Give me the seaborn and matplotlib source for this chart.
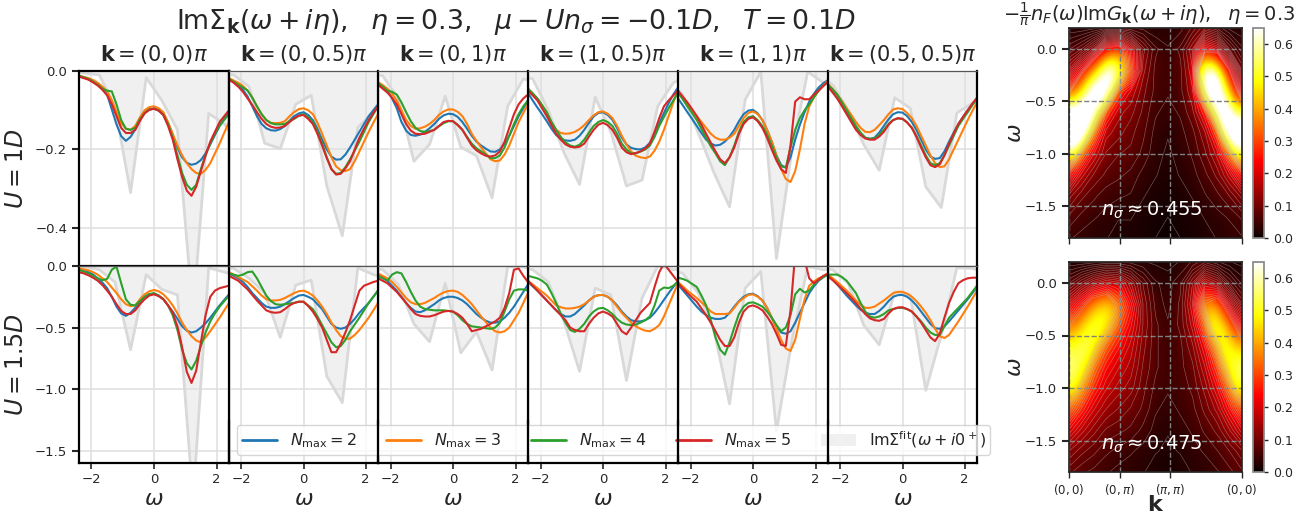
"""Self-energy panels and occupied spectral maps."""

import matplotlib

matplotlib.use("Agg")

import matplotlib.pyplot as plt
import numpy as np
import seaborn as sns

OMEGA = [-2.4, -2.25, -2.1, -1.95, -1.8, -1.65, -1.5, -1.35, -1.2, -1.05, -0.9, -0.75, -0.6, -0.45, -0.3, -0.15, 0.0,
         0.15, 0.3, 0.45, 0.6, 0.75, 0.9, 1.05, 1.2, 1.35, 1.5, 1.65, 1.8, 1.95, 2.1, 2.25, 2.4]
OMEGA_FIT = [-2.75, -2.25, -1.75, -1.25, -0.75, -0.25, 0.25, 0.75, 1.25, 1.75, 2.25, 2.75]

K_TITLES = ["(0, 0)", "(0, 0.5)", "(0, 1)", "(1, 0.5)", "(1, 1)", "(0.5, 0.5)"]
N_MAX = [2, 3, 4, 5]

U1_N2 = [
    [-.014,-.017,-.021,-.027,-.034,-.043,-.06,-.098,-.136,-.166,-.178,-.168,-.149,-.125,-.106,-.098,-.096,-.101,-.112,-.135,-.165,-.195,-.22,-.234,-.239,-.236,-.227,-.21,-.187,-.163,-.14,-.122,-.106],
    [-.02,-.027,-.035,-.048,-.065,-.09,-.115,-.135,-.146,-.151,-.152,-.148,-.14,-.127,-.115,-.108,-.105,-.112,-.125,-.148,-.175,-.2,-.218,-.226,-.225,-.213,-.195,-.175,-.155,-.135,-.115,-.1,-.085],
    [-.03,-.039,-.05,-.07,-.095,-.13,-.152,-.163,-.165,-.162,-.155,-.146,-.135,-.122,-.113,-.109,-.11,-.117,-.13,-.147,-.165,-.18,-.19,-.198,-.205,-.206,-.2,-.185,-.165,-.14,-.115,-.095,-.075],
    [-.056,-.075,-.093,-.11,-.128,-.147,-.163,-.173,-.177,-.178,-.175,-.165,-.15,-.132,-.116,-.107,-.105,-.112,-.124,-.145,-.17,-.187,-.196,-.199,-.2,-.195,-.183,-.163,-.133,-.107,-.082,-.06,-.042],
    [-.07,-.087,-.105,-.122,-.14,-.158,-.175,-.185,-.19,-.188,-.18,-.167,-.15,-.128,-.11,-.101,-.099,-.108,-.125,-.15,-.18,-.215,-.24,-.246,-.22,-.175,-.137,-.105,-.078,-.058,-.042,-.031,-.023],
    [-.035,-.052,-.07,-.087,-.105,-.125,-.145,-.16,-.17,-.173,-.17,-.157,-.14,-.123,-.11,-.105,-.106,-.115,-.13,-.15,-.175,-.2,-.218,-.224,-.222,-.205,-.18,-.157,-.135,-.117,-.1,-.085,-.07],
]
U1_N3 = [
    [-.012,-.015,-.018,-.023,-.03,-.04,-.052,-.075,-.105,-.133,-.147,-.15,-.14,-.118,-.1,-.092,-.09,-.095,-.105,-.13,-.16,-.19,-.215,-.235,-.25,-.26,-.262,-.252,-.235,-.21,-.185,-.157,-.13],
    [-.018,-.024,-.03,-.038,-.05,-.068,-.09,-.11,-.125,-.132,-.133,-.132,-.128,-.115,-.105,-.097,-.095,-.1,-.11,-.132,-.16,-.19,-.22,-.243,-.253,-.255,-.25,-.23,-.205,-.18,-.155,-.132,-.11],
    [-.028,-.036,-.045,-.058,-.075,-.1,-.125,-.14,-.147,-.146,-.142,-.135,-.125,-.112,-.103,-.098,-.098,-.104,-.115,-.135,-.16,-.178,-.195,-.21,-.225,-.23,-.228,-.213,-.19,-.16,-.13,-.107,-.085],
    [-.045,-.057,-.07,-.087,-.105,-.13,-.15,-.158,-.16,-.159,-.155,-.148,-.138,-.125,-.113,-.105,-.103,-.109,-.12,-.14,-.165,-.187,-.205,-.216,-.22,-.222,-.218,-.203,-.18,-.15,-.115,-.08,-.05],
    [-.055,-.07,-.085,-.1,-.115,-.13,-.145,-.16,-.17,-.175,-.175,-.17,-.16,-.14,-.12,-.107,-.103,-.11,-.125,-.15,-.18,-.215,-.25,-.275,-.283,-.255,-.2,-.135,-.09,-.067,-.05,-.037,-.025],
    [-.033,-.046,-.06,-.077,-.095,-.112,-.13,-.145,-.155,-.156,-.15,-.138,-.125,-.11,-.098,-.095,-.097,-.107,-.12,-.14,-.165,-.19,-.215,-.235,-.245,-.243,-.225,-.2,-.175,-.15,-.125,-.102,-.08],
]
U1_N4 = [
    [-.012,-.016,-.02,-.027,-.035,-.045,-.05,-.052,-.085,-.125,-.147,-.15,-.145,-.123,-.107,-.098,-.096,-.1,-.112,-.135,-.17,-.215,-.26,-.29,-.303,-.29,-.25,-.215,-.185,-.16,-.14,-.124,-.11],
    [-.02,-.027,-.035,-.042,-.05,-.068,-.09,-.11,-.125,-.133,-.136,-.136,-.135,-.128,-.122,-.114,-.11,-.118,-.13,-.155,-.185,-.22,-.25,-.262,-.26,-.245,-.225,-.203,-.18,-.155,-.13,-.11,-.09],
    [-.03,-.04,-.05,-.053,-.06,-.08,-.105,-.128,-.145,-.153,-.155,-.153,-.15,-.141,-.133,-.128,-.128,-.137,-.15,-.168,-.185,-.197,-.205,-.213,-.222,-.222,-.215,-.195,-.165,-.135,-.11,-.09,-.075],
    [-.045,-.057,-.07,-.087,-.105,-.13,-.15,-.168,-.182,-.19,-.193,-.188,-.175,-.157,-.14,-.13,-.125,-.13,-.14,-.16,-.185,-.2,-.21,-.21,-.205,-.2,-.19,-.168,-.14,-.117,-.095,-.075,-.055],
    [-.055,-.072,-.09,-.107,-.125,-.147,-.17,-.192,-.21,-.23,-.24,-.22,-.19,-.155,-.13,-.118,-.115,-.125,-.14,-.162,-.19,-.22,-.243,-.246,-.195,-.15,-.12,-.1,-.085,-.067,-.05,-.038,-.028],
    [-.035,-.047,-.06,-.08,-.1,-.12,-.14,-.157,-.17,-.173,-.172,-.163,-.15,-.135,-.125,-.121,-.122,-.131,-.145,-.165,-.19,-.215,-.235,-.24,-.235,-.215,-.19,-.165,-.14,-.122,-.105,-.087,-.07],
]
U1_N5 = [
    [-.014,-.018,-.022,-.029,-.037,-.048,-.062,-.085,-.115,-.145,-.158,-.158,-.15,-.127,-.108,-.099,-.096,-.101,-.112,-.14,-.175,-.225,-.27,-.305,-.318,-.295,-.255,-.215,-.18,-.155,-.13,-.115,-.1],
    [-.022,-.03,-.04,-.053,-.07,-.087,-.105,-.122,-.135,-.142,-.145,-.144,-.14,-.13,-.12,-.114,-.112,-.122,-.135,-.16,-.19,-.222,-.25,-.264,-.262,-.248,-.23,-.2,-.17,-.147,-.125,-.107,-.09],
    [-.035,-.045,-.055,-.068,-.085,-.11,-.135,-.152,-.16,-.161,-.16,-.155,-.15,-.14,-.13,-.127,-.128,-.138,-.15,-.17,-.19,-.202,-.21,-.216,-.218,-.215,-.205,-.18,-.145,-.11,-.085,-.07,-.06],
    [-.05,-.062,-.075,-.095,-.115,-.138,-.16,-.175,-.187,-.193,-.195,-.193,-.185,-.167,-.15,-.137,-.132,-.138,-.15,-.17,-.195,-.207,-.212,-.209,-.205,-.198,-.185,-.155,-.12,-.09,-.075,-.062,-.05],
    [-.05,-.065,-.08,-.097,-.115,-.137,-.16,-.183,-.205,-.225,-.235,-.22,-.195,-.16,-.135,-.122,-.118,-.128,-.145,-.17,-.2,-.228,-.25,-.26,-.19,-.078,-.067,-.072,-.072,-.06,-.05,-.038,-.027],
    [-.04,-.055,-.07,-.09,-.11,-.13,-.15,-.163,-.172,-.175,-.175,-.167,-.155,-.137,-.125,-.12,-.122,-.131,-.145,-.168,-.195,-.22,-.24,-.245,-.238,-.215,-.185,-.16,-.135,-.117,-.1,-.083,-.068],
]
U1_FIT = [
    [-.003, -.005, -.01, -.09, -.31, -.017, -.075, -.15, -.62, -.108, -.135, -.19],
    [-.005, -.01, -.04, -.184, -.198, -.085, -.062, -.293, -.42, -.144, -.105, -.06],
    [-.005, -.012, -.07, -.23, -.187, -.064, -.194, -.216, -.323, -.09, -.02, -.03],
    [-.01, -.02, -.1, -.208, -.289, -.067, -.155, -.293, -.278, -.09, -.03, -.01],
    [-.02, -.06, -.158, -.259, -.346, -.073, -.002, -.478, -.2, -.002, -.03, -.02],
    [-.01, -.035, -.1, -.187, -.253, -.068, -.095, -.295, -.348, -.107, -.082, -.06],
]

U15_N2 = [
    [-.03,-.04,-.05,-.07,-.1,-.135,-.18,-.25,-.33,-.385,-.405,-.38,-.34,-.29,-.25,-.23,-.225,-.24,-.27,-.32,-.37,-.43,-.49,-.525,-.54,-.53,-.5,-.465,-.42,-.37,-.32,-.275,-.23],
    [-.06,-.08,-.1,-.13,-.17,-.22,-.26,-.3,-.33,-.34,-.34,-.33,-.31,-.285,-.26,-.24,-.235,-.25,-.27,-.31,-.35,-.41,-.47,-.5,-.51,-.5,-.47,-.43,-.38,-.34,-.3,-.25,-.2],
    [-.07,-.09,-.12,-.16,-.2,-.25,-.3,-.34,-.37,-.375,-.36,-.335,-.31,-.28,-.26,-.25,-.25,-.26,-.28,-.31,-.35,-.39,-.42,-.445,-.46,-.46,-.45,-.42,-.38,-.33,-.27,-.21,-.15],
    [-.13,-.165,-.2,-.24,-.28,-.32,-.36,-.39,-.41,-.41,-.39,-.355,-.32,-.28,-.25,-.237,-.235,-.25,-.28,-.32,-.37,-.41,-.44,-.45,-.45,-.44,-.42,-.38,-.33,-.275,-.22,-.17,-.12],
    [-.15,-.195,-.24,-.285,-.33,-.37,-.4,-.42,-.43,-.43,-.42,-.38,-.33,-.285,-.25,-.23,-.225,-.245,-.28,-.34,-.42,-.49,-.54,-.55,-.53,-.46,-.38,-.3,-.22,-.165,-.12,-.09,-.07],
    [-.07,-.11,-.15,-.195,-.24,-.28,-.32,-.355,-.38,-.39,-.39,-.365,-.33,-.285,-.25,-.237,-.235,-.25,-.28,-.32,-.37,-.42,-.47,-.505,-.51,-.49,-.45,-.405,-.36,-.315,-.27,-.22,-.17],
]
U15_N3 = [
    [-.02,-.027,-.035,-.05,-.07,-.1,-.13,-.175,-.22,-.27,-.31,-.325,-.32,-.27,-.23,-.205,-.195,-.205,-.23,-.27,-.32,-.385,-.46,-.52,-.57,-.605,-.62,-.58,-.53,-.475,-.42,-.36,-.3],
    [-.05,-.07,-.09,-.11,-.13,-.165,-.2,-.24,-.27,-.28,-.28,-.275,-.26,-.24,-.22,-.205,-.2,-.215,-.24,-.28,-.33,-.39,-.46,-.52,-.57,-.59,-.59,-.56,-.52,-.47,-.42,-.36,-.3],
    [-.06,-.08,-.1,-.13,-.17,-.215,-.26,-.295,-.31,-.31,-.3,-.28,-.26,-.235,-.215,-.203,-.2,-.21,-.235,-.27,-.31,-.36,-.41,-.455,-.5,-.53,-.54,-.53,-.5,-.44,-.38,-.3,-.22],
    [-.12,-.15,-.18,-.21,-.24,-.28,-.32,-.335,-.345,-.345,-.34,-.33,-.31,-.28,-.25,-.237,-.235,-.25,-.28,-.33,-.38,-.42,-.46,-.49,-.51,-.525,-.53,-.51,-.48,-.41,-.32,-.23,-.14],
    [-.13,-.165,-.2,-.23,-.26,-.295,-.33,-.37,-.39,-.39,-.39,-.385,-.34,-.29,-.26,-.235,-.23,-.25,-.28,-.34,-.42,-.51,-.6,-.67,-.69,-.6,-.43,-.27,-.16,-.125,-.1,-.085,-.07],
    [-.07,-.1,-.13,-.165,-.2,-.24,-.28,-.315,-.34,-.34,-.33,-.305,-.28,-.25,-.22,-.21,-.21,-.225,-.25,-.285,-.33,-.38,-.44,-.51,-.57,-.585,-.56,-.505,-.45,-.39,-.33,-.265,-.2],
]
U15_N4 = [
    [-.03,-.045,-.06,-.08,-.1,-.115,-.105,-.03,-.005,-.14,-.27,-.315,-.32,-.285,-.25,-.228,-.22,-.24,-.27,-.32,-.4,-.52,-.68,-.79,-.84,-.77,-.65,-.54,-.45,-.385,-.33,-.285,-.24],
    [-.06,-.07,-.08,-.07,-.05,-.045,-.1,-.17,-.24,-.285,-.31,-.315,-.31,-.305,-.3,-.29,-.29,-.32,-.35,-.41,-.48,-.55,-.62,-.66,-.65,-.6,-.53,-.475,-.42,-.36,-.3,-.25,-.2],
    [-.08,-.1,-.12,-.07,-.05,-.06,-.13,-.21,-.28,-.33,-.35,-.355,-.36,-.36,-.36,-.365,-.37,-.4,-.44,-.47,-.49,-.495,-.5,-.505,-.51,-.5,-.46,-.37,-.27,-.2,-.19,-.19,-.2],
    [-.08,-.09,-.1,-.12,-.15,-.22,-.3,-.39,-.46,-.52,-.535,-.51,-.47,-.41,-.37,-.345,-.34,-.36,-.39,-.43,-.46,-.475,-.48,-.475,-.46,-.44,-.41,-.32,-.2,-.175,-.18,-.16,-.13],
    [-.095,-.105,-.12,-.145,-.17,-.24,-.32,-.44,-.58,-.68,-.72,-.62,-.5,-.39,-.33,-.3,-.295,-.31,-.33,-.37,-.42,-.48,-.53,-.5,-.4,-.23,-.185,-.215,-.2,-.15,-.115,-.09,-.07],
    [-.07,-.07,-.07,-.09,-.12,-.17,-.22,-.3,-.37,-.41,-.42,-.41,-.39,-.36,-.35,-.34,-.34,-.35,-.37,-.41,-.45,-.5,-.54,-.56,-.56,-.49,-.42,-.38,-.34,-.3,-.26,-.21,-.16],
]
U15_N5 = [
    [-.05,-.06,-.075,-.095,-.12,-.155,-.2,-.25,-.31,-.365,-.39,-.39,-.36,-.31,-.27,-.24,-.23,-.245,-.27,-.32,-.38,-.49,-.66,-.86,-.95,-.85,-.62,-.4,-.25,-.2,-.18,-.17,-.16],
    [-.08,-.1,-.12,-.155,-.19,-.235,-.28,-.32,-.36,-.375,-.38,-.375,-.35,-.32,-.3,-.29,-.29,-.325,-.37,-.43,-.5,-.6,-.7,-.7,-.63,-.54,-.44,-.32,-.2,-.16,-.145,-.13,-.12],
    [-.1,-.12,-.14,-.175,-.21,-.255,-.3,-.35,-.39,-.405,-.41,-.41,-.4,-.385,-.37,-.365,-.37,-.39,-.42,-.47,-.53,-.52,-.51,-.49,-.47,-.45,-.42,-.34,-.22,-.03,-.02,-.08,-.13],
    [-.12,-.16,-.2,-.24,-.28,-.32,-.36,-.4,-.44,-.5,-.52,-.53,-.53,-.47,-.42,-.385,-.37,-.385,-.41,-.47,-.53,-.555,-.5,-.44,-.38,-.34,-.3,-.17,-.05,.02,-.03,-.08,-.13],
    [-.14,-.18,-.22,-.255,-.29,-.345,-.4,-.46,-.53,-.6,-.65,-.65,-.58,-.46,-.37,-.33,-.32,-.335,-.36,-.41,-.47,-.55,-.64,-.65,-.36,.1,.15,.05,-.1,-.14,-.11,-.08,-.06],
    [-.085,-.115,-.15,-.185,-.22,-.26,-.3,-.345,-.39,-.425,-.44,-.445,-.43,-.385,-.35,-.337,-.335,-.35,-.37,-.41,-.46,-.52,-.58,-.61,-.55,-.42,-.3,-.21,-.14,-.115,-.1,-.095,-.095],
]
U15_FIT = [
    [-.003, -.005, -.03, -.13, -.68, -.07, -.19, -.235, -1.9, -.015, -.05, -.08],
    [-.01, -.02, -.1, -.22, -.58, -.155, -.115, -.895, -1.11, -.015, -.07, -.1],
    [-.01, -.03, -.15, -.47, -.615, -.14, -.705, -.535, -.845, -.005, -.01, -.03],
    [-.01, -.03, -.13, -.45, -.855, -.18, -.235, -.93, -.26, 0.0, -.03, -.03],
    [-.02, -.06, -.22, -.52, -1.12, -.18, -.045, -1.34, -.6, -.005, -.03, -.02],
    [-.01, -.03, -.14, -.48, -.64, -.21, -.235, -1.01, -.56, -.015, -.02, -.05],
]

MAP_U1 = [
    [.03, .03, .04, .06, .06, .05, .04, .03, .03, .04, .07, .12, .08, .04, .03],
    [.10, .14, .22, .42, .45, .28, .13, .07, .05, .07, .14, .35, .30, .14, .07],
    [.2, .33, .55, .8, .5, .3, .11, .06, .05, .06, .12, .65, .8, .38, .14],
    [.36, .62, .85, .55, .2, .14, .09, .06, .05, .06, .1, .4, .85, .6, .25],
    [.75, .85, .5, .2, .13, .11, .08, .05, .04, .05, .08, .16, .45, .85, .55],
    [.9, .6, .26, .13, .11, .09, .07, .04, .03, .04, .06, .1, .2, .6, .85],
    [.55, .27, .16, .1, .085, .08, .06, .035, .025, .035, .05, .08, .13, .27, .55],
    [.26, .15, .1, .08, .07, .06, .04, .03, .02, .03, .04, .06, .09, .15, .26],
    [.13, .09, .07, .055, .05, .045, .03, .02, .015, .02, .03, .045, .06, .085, .13],
    [.08, .06, .05, .04, .03, .03, .02, .015, .01, .015, .02, .03, .04, .05, .07],
    [.05, .04, .03, .03, .02, .02, .015, .01, .005, .01, .015, .02, .03, .035, .045],
]
MAP_U15 = [
    [.03, .03, .04, .05, .05, .04, .03, .025, .02, .03, .05, .08, .05, .03, .02],
    [.12, .18, .24, .28, .26, .18, .1, .05, .04, .06, .14, .27, .22, .12, .06],
    [.25, .35, .47, .5, .36, .24, .12, .06, .04, .07, .16, .4, .47, .28, .14],
    [.38, .5, .55, .43, .28, .2, .12, .07, .05, .07, .13, .26, .55, .47, .26],
    [.52, .57, .42, .28, .22, .17, .11, .07, .05, .06, .1, .18, .34, .55, .44],
    [.57, .47, .3, .22, .18, .15, .1, .07, .05, .06, .08, .14, .24, .44, .56],
    [.52, .35, .24, .18, .15, .13, .09, .06, .05, .055, .07, .11, .18, .3, .52],
    [.35, .25, .18, .14, .12, .1, .08, .05, .04, .05, .06, .09, .13, .21, .33],
    [.23, .17, .13, .1, .09, .08, .06, .04, .03, .04, .05, .07, .09, .14, .21],
    [.14, .11, .09, .07, .06, .05, .04, .03, .025, .03, .04, .05, .065, .085, .12],
    [.09, .07, .06, .05, .04, .035, .03, .02, .015, .02, .03, .035, .045, .06, .08],
]
MAP_OMEGA = [0.2, 0.0, -0.2, -0.4, -0.6, -0.8, -1.0, -1.2, -1.4, -1.6, -1.8]
K_TICKS = [0.0, 1.0, 2.0, 3.414]
K_LABELS = ["$(0, 0)$", "$(0, \\pi)$", "$(\\pi, \\pi)$", "$(0, 0)$"]
FILLINGS = ["0.455", "0.475"]

COLORS = ["tab:blue", "tab:orange", "tab:green", "tab:red"]
W, H = 1312, 516


def axes_px(fig, left, top, right, bottom):
    return fig.add_axes([left / W, 1 - bottom / H, (right - left) / W, (bottom - top) / H])


def style_spines(ax, bold):
    for name, spine in ax.spines.items():
        spine.set_visible(True)
        if name in bold:
            spine.set_linewidth(1.6)
            spine.set_color("black")
        else:
            spine.set_linewidth(0.9)
            spine.set_color("#555555")


def draw_panel(ax, curves, fit, ylim, with_label):
    ax.patch.set_visible(False)
    ax.fill_between(OMEGA_FIT, fit, 0, color="#f0f0f0", lw=0, label=r"$\mathrm{Im}\Sigma^{\mathrm{fit}}(\omega+i0^+)$")
    sns.lineplot(x=OMEGA_FIT, y=fit, ax=ax, color="#d9d9d9", lw=2, errorbar=None, legend=False)
    for values, color, n_max in zip(curves, COLORS, N_MAX):
        label = rf"$N_{{\max}}={n_max}$" if with_label else None
        sns.lineplot(x=OMEGA, y=values, ax=ax, color=color, lw=1.5, errorbar=None, legend=False, label=label)
    ax.set_xlim(-2.4, 2.4)
    ax.set_ylim(*ylim)
    ax.set_xticks([-2, 0, 2])
    ax.set_axisbelow("line")
    ax.grid(True, color="#e0e0e0", lw=1.2)
    ax.set_xlabel("")
    ax.set_ylabel("")


def draw_map(fig, ax, cax, grid, filling):
    extent = [K_TICKS[0], K_TICKS[-1], MAP_OMEGA[-1], MAP_OMEGA[0]]
    im = ax.imshow(grid, cmap="hot", vmin=0, vmax=0.65, aspect="auto", extent=extent, interpolation="bicubic")
    k_axis = np.linspace(K_TICKS[0], K_TICKS[-1], len(grid[0]))
    ax.contour(k_axis, MAP_OMEGA, grid, levels=np.linspace(0.01, 0.4, 22), colors="#c8c8c8", linewidths=0.4, alpha=0.5)
    ax.set_xticks(K_TICKS)
    ax.set_yticks([0.0, -0.5, -1.0, -1.5])
    ax.grid(True, color="gray", ls="--", lw=1)
    ax.tick_params(axis="y", labelsize=9.5, width=1.5, length=5)
    ax.tick_params(axis="x", labelsize=8.5, width=1, length=4)
    ax.set_ylabel(r"$\omega$", fontsize=16)
    ax.yaxis.set_label_coords((1025 - 1069) / 173, 0.5)
    ax.text(1.63, -1.54, rf"$n_\sigma\approx{filling}$", color="white", fontsize=14, ha="center", va="center")
    cbar = fig.colorbar(im, cax=cax)
    cbar.set_ticks([0.0, 0.1, 0.2, 0.3, 0.4, 0.5, 0.6])
    cbar.ax.tick_params(labelsize=9, width=1, length=3)
    cbar.outline.set_edgecolor("#888888")


def main():
    sns.set_theme(style="ticks", font="DejaVu Sans")
    fig = plt.figure(figsize=(W / 100, H / 100), dpi=100)

    edges = [79, 229, 378, 528, 678, 828, 977]
    rows = [
        (71, 266, (-0.497, 0.0), [U1_N2, U1_N3, U1_N4, U1_N5], U1_FIT, [0.0, -0.2, -0.4], "$U=1D$"),
        (266, 463, (-1.6, 0.0), [U15_N2, U15_N3, U15_N4, U15_N5], U15_FIT, [0.0, -0.5, -1.0, -1.5], "$U=1.5D$"),
    ]
    legend_ax = None
    for r, (top, bottom, ylim, series, fit, yticks, ylabel) in enumerate(rows):
        for c in range(6):
            ax = axes_px(fig, edges[c], top, edges[c + 1], bottom)
            curves = [s[c] for s in series]
            with_label = r == 1 and c == 0
            draw_panel(ax, curves, fit[c], ylim, with_label)
            ax.set_yticks(yticks)
            bold = {"left"}
            if c == 5:
                bold.add("right")
            if r == 1:
                bold.add("bottom")
            if r == 0 and c == 0:
                bold.update({"top", "right", "bottom"})
            style_spines(ax, bold)
            ax.tick_params(axis="y", labelsize=9.5, width=1.5, length=5 if c == 0 else 0, labelleft=c == 0)
            ax.tick_params(axis="x", labelsize=9.5, width=1.2, length=4 if r == 1 else 0, labelbottom=r == 1)
            if c == 0:
                ax.set_ylabel(ylabel, fontsize=17)
                ax.yaxis.set_label_coords((28 - 79) / 150, 0.5)
            if r == 0:
                ax.set_title(rf"$\mathbf{{k}}={K_TITLES[c]}\pi$", fontsize=15, pad=7)
            else:
                ax.set_xlabel(r"$\omega$", fontsize=16, labelpad=2)
            if with_label:
                legend_ax = ax

    handles, labels = legend_ax.get_legend_handles_labels()
    handles = handles[1:] + handles[:1]
    labels = labels[1:] + labels[:1]
    legend = fig.legend(
        handles, labels, ncols=5, fontsize=11.5, loc="lower left",
        bbox_to_anchor=(237 / W, 1 - 455 / H), borderaxespad=0, borderpad=0.3,
        columnspacing=1.85, handlelength=2.2, framealpha=0.8,
    )
    for line in legend.get_lines():
        line.set_linewidth(2)
    # spines stay on top of the legend box
    for x in edges[1:-1]:
        fig.add_artist(plt.Line2D([x / W, x / W], [1 - 463 / H, 1 - 420 / H], color="black", lw=1.6, zorder=6))

    map_rows = [(28, 238, MAP_U1, FILLINGS[0]), (262, 472, MAP_U15, FILLINGS[1])]
    for i, (top, bottom, grid, filling) in enumerate(map_rows):
        ax = axes_px(fig, 1069, top, 1242, bottom)
        cax = axes_px(fig, 1253, top, 1264, bottom)
        draw_map(fig, ax, cax, grid, filling)
        if i == 0:
            ax.set_xticklabels([])
            ax.set_title(
                r"$-\frac{1}{\pi}n_F(\omega)\mathrm{Im}G_{\mathbf{k}}(\omega+i\eta),\ \ \eta=0.3$",
                fontsize=14, pad=4, x=0.46,
            )
        else:
            ax.set_xticklabels(K_LABELS)
            ax.set_xlabel(r"$\mathbf{k}$", fontsize=16, labelpad=-2)

    fig.text(
        516 / W, 1 - 22 / H,
        r"$\mathrm{Im}\Sigma_{\mathbf{k}}(\omega+i\eta),\ \ \eta=0.3,\ \ \mu-Un_\sigma=-0.1D,\ \ T=0.1D$",
        fontsize=19.3, ha="center", va="center",
    )
    fig.savefig("out.png", dpi=100)


if __name__ == "__main__":
    main()
